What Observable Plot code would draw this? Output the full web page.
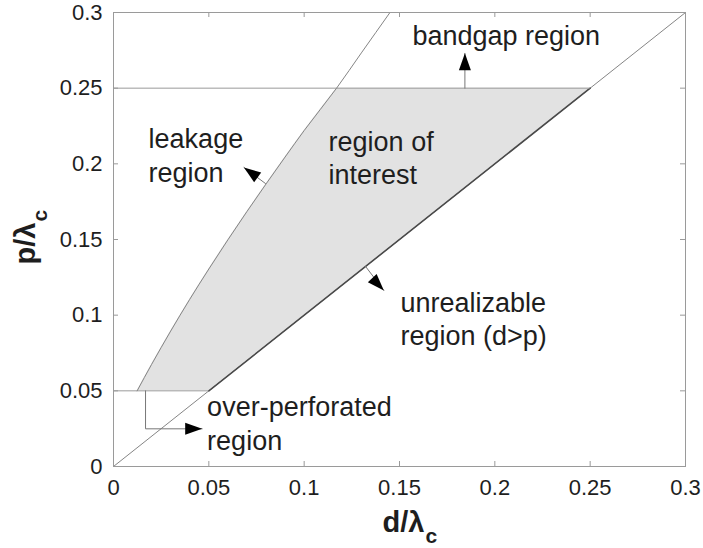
<!DOCTYPE html>
<html>
<head>
<meta charset="utf-8">
<script src="https://cdn.jsdelivr.net/npm/d3@7"></script>
<script src="https://cdn.jsdelivr.net/npm/@observablehq/plot@0.6"></script>
<style>
  html, body { margin: 0; padding: 0; background: #fff; }
</style>
</head>
<body>
<div id="chart"></div>
<script>
// ---- data ----
const xTicks = [0, 0.05, 0.1, 0.15, 0.2, 0.25, 0.3];
const xTickLabels = ["0", "0.05", "0.1", "0.15", "0.2", "0.25", "0.3"];
const yTicks = [0, 0.05, 0.1, 0.15, 0.2, 0.25, 0.3];
const yTickLabels = ["0", "0.05", "0.1", "0.15", "0.2", "0.25", "0.3"];

// leakage boundary curve (d/λc, p/λc)
const leakD = [0.0124, 0.02, 0.03, 0.04, 0.05, 0.06, 0.07, 0.08, 0.09, 0.1, 0.117, 0.13, 0.145];
const leakP = [0.05, 0.0675, 0.0895, 0.1105, 0.1305, 0.1498, 0.1685, 0.1867, 0.2045, 0.222, 0.25, 0.2733, 0.3];

// d = p line and its emphasised part bounding the region of interest
const diagD = [0, 0.3];
const diagP = [0, 0.3];
const roiEdgeD = [0.05, 0.25];
const roiEdgeP = [0.05, 0.25];

// horizontal limits: bandgap (p = 0.25) and over-perforation (p = 0.05)
const limitP = [0.25, 0.05];
const limitFromD = [0, 0];
const limitToD = [0.25, 0.05];

// arrows: stems (polyline per arrow) and head tips with direction (deg, clockwise from up)
const stemId = ["bandgap", "bandgap", "leak", "leak", "unreal", "unreal", "over", "over", "over"];
const stemD  = [0.1843, 0.1843, 0.0797, 0.0684, 0.1322, 0.1418, 0.0168, 0.0168, 0.0465];
const stemP  = [0.25, 0.273, 0.187, 0.1976, 0.1322, 0.1163, 0.05, 0.0249, 0.0249];
const headD = [0.1843, 0.0684, 0.1418, 0.0465];
const headP = [0.273, 0.1976, 0.1163, 0.0249];
const headAngle = [0, -54, 137, 90];

// region labels
const labelText = ["bandgap region", "leakage\nregion", "region of\ninterest", "unrealizable\nregion (d>p)", "over-perforated\nregion"];
const labelD = [0.1568, 0.0184, 0.1128, 0.1505, 0.0491];
const labelP = [0.2783, 0.188, 0.1864, 0.080, 0.0112];

// ---- tables built from the arrays ----
const leak = leakD.map((d, i) => ({d, p: leakP[i]}));
const roi = leak.filter(r => r.p <= 0.25);
const diag = diagD.map((d, i) => ({d, p: diagP[i]}));
const roiEdge = roiEdgeD.map((d, i) => ({d, p: roiEdgeP[i]}));
const limits = limitP.map((p, i) => ({p, d1: limitFromD[i], d2: limitToD[i]}));
const stems = stemId.map((id, i) => ({id, d: stemD[i], p: stemP[i]}));
const heads = headD.map((d, i) => ({d, p: headP[i], a: headAngle[i]}));
const labels = labelText.map((t, i) => ({t, d: labelD[i], p: labelP[i]}));

// filled arrow head with its tip at the origin, pointing up
const headSymbol = {
  draw(ctx) {
    const L = 17, W = 12;
    ctx.moveTo(0, 0);
    ctx.lineTo(W / 2, L);
    ctx.lineTo(-W / 2, L);
    ctx.closePath();
  }
};

const gray = "#9a9a9a";
const lineGray = "#858585";
const ink = "#1e1e1e";

const chart = Plot.plot({
  width: 703,
  height: 548,
  marginLeft: 113,
  marginRight: 18,
  marginTop: 12,
  marginBottom: 82,
  style: {fontFamily: "'Liberation Sans', Arial, Helvetica, sans-serif", background: "#fff", color: ink, overflow: "visible"},
  x: {domain: [0, 0.3]},
  y: {domain: [0, 0.3]},
  marks: [
    Plot.areaX(roi, {y: "p", x1: "d", x2: "p", fill: "#e2e2e2", curve: "monotone-y"}),
    Plot.line(diag, {x: "d", y: "p", stroke: lineGray, strokeWidth: 1}),
    Plot.line(roiEdge, {x: "d", y: "p", stroke: "#4a4a4a", strokeWidth: 1.6}),
    Plot.ruleY(limits, {y: "p", x1: "d1", x2: "d2", stroke: gray, strokeWidth: 1}),
    Plot.line(leak, {x: "d", y: "p", stroke: lineGray, strokeWidth: 1, curve: "monotone-y"}),
    Plot.line(stems, {x: "d", y: "p", z: "id", stroke: "#777", strokeWidth: 1}),
    Plot.dot(heads, {x: "d", y: "p", rotate: "a", symbol: headSymbol, fill: "#000", stroke: "none", r: 5}),
    Plot.frame({stroke: gray, strokeWidth: 1}),
    Plot.tickX(xTicks, {x: d => d, insetTop: 449, stroke: gray}),
    Plot.tickX(xTicks, {x: d => d, insetBottom: 449, stroke: gray}),
    Plot.tickY(yTicks, {y: d => d, insetRight: 567, stroke: gray}),
    Plot.tickY(yTicks, {y: d => d, insetLeft: 567, stroke: gray}),
    Plot.axisX({ticks: xTicks, tickFormat: (d, i) => xTickLabels[i], tickSize: 0, tickPadding: 13, fontSize: 22, fill: ink, label: null}),
    Plot.axisY({ticks: yTicks, tickFormat: (d, i) => yTickLabels[i], tickSize: 0, tickPadding: 11, fontSize: 22, fill: ink, label: null}),
    Plot.text(labels, {x: "d", y: "p", text: "t", textAnchor: "start", lineAnchor: "bottom", lineHeight: 1.25, fontSize: 27, fill: ink}),
    Plot.text(["d/λ"], {text: d => d, frameAnchor: "bottom", textAnchor: "end", lineAnchor: "bottom", dx: 25, dy: 65, fontSize: 29, fontWeight: "bold", fill: ink}),
    Plot.text(["c"], {text: d => d, frameAnchor: "bottom", textAnchor: "start", lineAnchor: "bottom", dx: 26, dy: 76, fontSize: 21, fontWeight: "bold", fill: ink}),
    Plot.text(["p/λ"], {text: d => d, frameAnchor: "left", rotate: -90, textAnchor: "end", lineAnchor: "bottom", dx: -79, dy: -17, fontSize: 29, fontWeight: "bold", fill: ink}),
    Plot.text(["c"], {text: d => d, frameAnchor: "left", rotate: -90, textAnchor: "start", lineAnchor: "bottom", dx: -67, dy: -18, fontSize: 21, fontWeight: "bold", fill: ink})
  ]
});
document.getElementById("chart").appendChild(chart);
</script>
</body>
</html>
